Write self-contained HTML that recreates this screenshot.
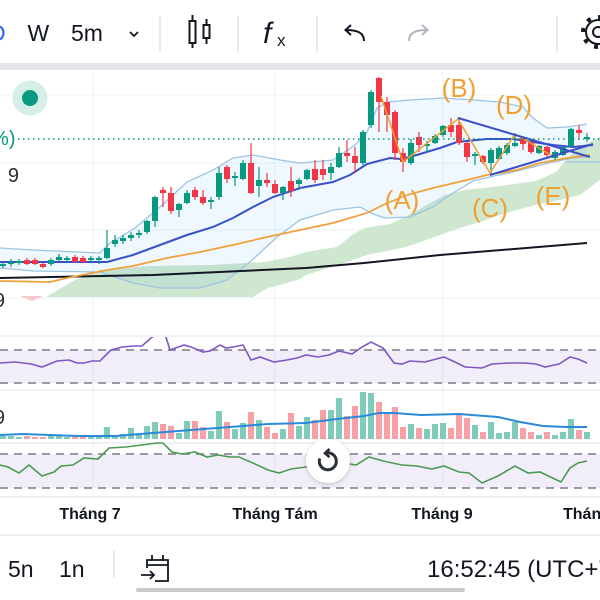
<!DOCTYPE html>
<html><head><meta charset="utf-8"><style>
html,body{margin:0;padding:0;background:#fff;width:600px;height:600px;overflow:hidden}
svg{display:block}
text{font-family:"Liberation Sans",sans-serif}
</style></head><body>
<svg width="600" height="600" viewBox="0 0 600 600" xmlns="http://www.w3.org/2000/svg">
<defs>
<clipPath id="mainClip"><rect x="0" y="70" width="600" height="266"/></clipPath>
<clipPath id="rsiClip"><rect x="0" y="337" width="600" height="53"/></clipPath>
<filter id="sh" x="-50%" y="-50%" width="200%" height="200%"><feDropShadow dx="0" dy="1" stdDeviation="2.5" flood-color="#000" flood-opacity="0.22"/></filter>
</defs>
<rect width="600" height="600" fill="#fff"/>

<!-- toolbar -->
<text x="-11" y="41" font-size="23" fill="#2962ff">D</text>
<text x="27.5" y="41" font-size="23" fill="#131722">W</text>
<text x="71" y="41" font-size="23" fill="#131722">5m</text>
<polyline points="130,32 134,36 138,32" fill="none" stroke="#131722" stroke-width="1.8"/>
<g stroke="#e0e3eb" stroke-width="1.5"><line x1="160" y1="16" x2="160" y2="52"/><line x1="238" y1="16" x2="238" y2="52"/><line x1="317" y1="16" x2="317" y2="52"/><line x1="557" y1="16" x2="557" y2="52"/></g>
<g stroke="#131722" stroke-width="2" fill="none">
<line x1="192.5" y1="15" x2="192.5" y2="48"/><rect x="189.5" y="21" width="6" height="22" fill="#fff"/>
<line x1="206.5" y1="19" x2="206.5" y2="44"/><rect x="203.5" y="25" width="6" height="13" fill="#fff"/>
</g>
<text x="263" y="43" font-size="30" font-style="italic" font-family="Liberation Serif" fill="#131722">f</text>
<text x="277" y="46" font-size="17" fill="#131722">x</text>
<path d="M364 41 C364 33 358 30 346 30 M351 25 L345.5 30 L351 35" fill="none" stroke="#131722" stroke-width="2"/>
<path d="M409 41 C409 33 415 30 427 30 M422 25 L427.5 30 L422 35" fill="none" stroke="#b2b5be" stroke-width="2"/>
<g fill="none" stroke="#131722">
<circle cx="598" cy="32" r="12" stroke-width="2"/>
<circle cx="598" cy="32" r="15" stroke-width="4" stroke-dasharray="4 7.78"/>
<circle cx="598" cy="32" r="5" stroke-width="2"/>
</g>
<rect x="0" y="63" width="600" height="7" fill="#e4e6ec"/>

<!-- grid -->
<g stroke="#eff1f6" stroke-width="1">
<line x1="0" y1="95" x2="600" y2="95"/><line x1="0" y1="163" x2="600" y2="163"/><line x1="0" y1="230" x2="600" y2="230"/><line x1="0" y1="298" x2="600" y2="298"/>
<line x1="93" y1="70" x2="93" y2="497"/><line x1="275" y1="70" x2="275" y2="497"/><line x1="443" y1="70" x2="443" y2="497"/>
</g>

<g clip-path="url(#mainClip)">
<!-- ichimoku cloud -->
<polygon fill="#cfe7cf" points="46,297 73,281 100,270 150,266 210,265 265,262 290,257 306,252 337,247 352,235 365,228 390,224 413,213 430,203 445,195 465,190 500,186 536,181 556,172 568,158 580,147 593,140 600,137 600,180 580,195 560,200 536,205 509,212 480,222 460,228 440,235 415,244 406,247 367,255 344,263 306,275 298,280 268,288 253,297"/>
<polygon fill="#f6c8cc" points="20,296 43,296 32,301"/>
<!-- BB fill -->
<polygon fill="#2196f3" fill-opacity="0.07" points="0,248 33,250 100,253 110,243 135,228 160,207 187,182 213,170 233,158 253,155 280,160 300,163 333,160 355,145 367,132 377,108 388,102 410,100 443,98 473,100 500,102 523,107 533,118 547,128 567,127 587,124 587,157 573,158 553,162 533,167 513,172 490,177 473,181 450,195 433,207 410,217 385,218 373,214 360,207 333,210 300,220 277,237 250,262 227,280 200,288 160,288 133,283 100,272 33,271 0,268"/>
<g fill="none" stroke="#9cc3e3" stroke-width="1.3">
<polyline points="0,248 33,250 100,253 110,243 135,228 160,207 187,182 213,170 233,158 253,155 280,160 300,163 333,160 355,145 367,132 377,108 388,102 410,100 443,98 473,100 500,102 523,107 533,118 547,128 567,127 587,124"/>
<polyline points="0,268 33,271 100,272 133,283 160,288 200,288 227,280 250,262 277,237 300,220 333,210 360,207 373,214 385,218 410,217 433,207 450,195 473,181 490,177 513,172 533,167 553,162 573,158 587,157"/>
<line x1="565" y1="162" x2="600" y2="162"/>
</g>
<polyline fill="none" stroke="#131722" stroke-width="2" points="0,278 153,275 306,268 364,263 440,255 587,243"/>
<polyline fill="none" stroke="#f0a13a" stroke-width="1.7" points="0,281 50,282 67,278 107,270 133,266 167,258 200,252 233,245 267,237 300,230 333,223 367,213 383,205 407,195 433,188 467,180 487,175 517,170 540,163 567,158 590,155"/>
<polyline fill="none" stroke="#3a50c8" stroke-width="2" points="0,262 107,262 133,255 160,245 187,235 213,227 233,218 253,207 273,197 300,188 333,182 350,175 367,164 390,158 400,159 410,157 440,148 457,142 487,139 513,139 533,142 553,145 573,147 593,145"/>

<!-- candle wicks -->
<path stroke="#089981" stroke-width="1.2" fill="none" d="M3 262V268M11 259V267M19 259V265M51 258V266M59 254V261M67 256V262M91 256V262M99 256V264M107 230V259M115 235V247M123 235V244M131 232V241M139 230V238M147 220V234M155 196V227M179 203V217M187 190V204M211 197V209M219 167V200M235 172V186M243 160V180M259 167V197M283 186V200M299 178V190M307 169V180M331 163V180M339 147V168M363 130V165M371 90V128M411 139V165M427 141V152M435 134V144M443 125V137M475 152V165M491 148V175M499 146V160M507 143V155M515 133V147M539 145V154M555 150V160M563 146V156M571 128V147M587 133V142"/>
<path stroke="#f23645" stroke-width="1.2" fill="none" d="M27 258V265M35 258V265M43 263V268M75 255V263M83 256V263M163 187V207M171 187V214M195 187V200M203 190V205M227 165V183M251 143V194M267 173V187M275 180V194M291 167V197M315 160V183M323 160V180M347 140V162M355 147V173M379 77V132M387 97V132M395 110V160M403 148V172M419 132V152M451 118V137M459 117V145M467 142V162M483 155V164M523 137V150M531 140V154M547 146V158M579 125V140"/>
<!-- candle bodies -->
<g fill="#089981">
<rect x="0" y="264" width="6" height="2"/><rect x="8" y="262" width="6" height="2"/><rect x="16" y="261" width="6" height="2"/><rect x="48" y="260" width="6" height="4"/><rect x="56" y="257" width="6" height="3"/><rect x="64" y="258" width="6" height="2"/><rect x="88" y="258" width="6" height="2"/><rect x="96" y="258" width="6" height="2"/><rect x="104" y="248" width="6" height="10"/><rect x="112" y="240" width="6" height="4"/><rect x="120" y="238" width="6" height="3"/><rect x="128" y="235" width="6" height="3"/><rect x="136" y="233" width="6" height="2"/><rect x="144" y="221" width="6" height="11"/><rect x="152" y="197" width="6" height="24"/><rect x="176" y="204" width="6" height="6"/><rect x="184" y="193" width="6" height="10"/><rect x="208" y="200" width="6" height="2"/><rect x="216" y="173" width="6" height="24"/><rect x="232" y="176" width="6" height="2"/><rect x="240" y="163" width="6" height="16"/><rect x="256" y="180" width="6" height="6"/><rect x="280" y="187" width="6" height="6"/><rect x="296" y="180" width="6" height="4"/><rect x="304" y="170" width="6" height="9"/><rect x="328" y="167" width="6" height="6"/><rect x="336" y="153" width="6" height="14"/><rect x="360" y="132" width="6" height="31"/><rect x="368" y="92" width="6" height="33"/><rect x="408" y="143" width="6" height="20"/><rect x="424" y="144" width="6" height="2"/><rect x="432" y="136" width="6" height="7"/><rect x="440" y="126" width="6" height="9"/><rect x="472" y="154" width="6" height="2"/><rect x="488" y="150" width="6" height="13"/><rect x="496" y="148" width="6" height="11"/><rect x="504" y="145" width="6" height="8"/><rect x="512" y="143" width="6" height="3"/><rect x="536" y="146" width="6" height="7"/><rect x="552" y="152" width="6" height="6"/><rect x="560" y="147" width="6" height="8"/><rect x="568" y="129" width="6" height="17"/><rect x="584" y="137" width="6" height="2"/>
</g>
<g fill="#f23645">
<rect x="24" y="260" width="6" height="4"/><rect x="32" y="260" width="6" height="4"/><rect x="40" y="264" width="6" height="3"/><rect x="72" y="257" width="6" height="5"/><rect x="80" y="258" width="6" height="4"/><rect x="160" y="190" width="6" height="3"/><rect x="168" y="193" width="6" height="18"/><rect x="192" y="190" width="6" height="7"/><rect x="200" y="197" width="6" height="6"/><rect x="224" y="167" width="6" height="12"/><rect x="248" y="163" width="6" height="30"/><rect x="264" y="180" width="6" height="3"/><rect x="272" y="184" width="6" height="9"/><rect x="288" y="181" width="6" height="10"/><rect x="312" y="169" width="6" height="11"/><rect x="320" y="169" width="6" height="6"/><rect x="344" y="153" width="6" height="3"/><rect x="352" y="156" width="6" height="7"/><rect x="376" y="78" width="6" height="24"/><rect x="384" y="102" width="6" height="13"/><rect x="392" y="112" width="6" height="41"/><rect x="400" y="153" width="6" height="9"/><rect x="416" y="137" width="6" height="8"/><rect x="448" y="125" width="6" height="7"/><rect x="456" y="125" width="6" height="18"/><rect x="464" y="143" width="6" height="14"/><rect x="480" y="156" width="6" height="6"/><rect x="520" y="138" width="6" height="6"/><rect x="528" y="142" width="6" height="10"/><rect x="544" y="147" width="6" height="8"/><rect x="576" y="130" width="6" height="3"/>
</g>
<!-- wave & triangle -->
<polyline fill="none" stroke="#f0a030" stroke-width="1.5" points="381,96 403,162 458,119 490,173 515,134 554,157"/>
<g stroke="#3a50c8" stroke-width="2"><line x1="458" y1="118" x2="590" y2="157"/><line x1="490" y1="175" x2="593" y2="144"/></g>
<line x1="18" y1="139" x2="600" y2="139" stroke="#089981" stroke-width="1.5" stroke-dasharray="1.5 3.5"/>
</g>

<!-- wave labels -->
<g font-size="26" fill="#f0a030" text-anchor="middle">
<text x="402" y="209">(A)</text><text x="459" y="97">(B)</text><text x="490" y="217">(C)</text><text x="514" y="114">(D)</text><text x="553" y="205">(E)</text>
</g>

<!-- left labels -->
<circle cx="30" cy="98" r="17.5" fill="#d6eee8"/>
<circle cx="30" cy="98" r="8" fill="#089981"/>
<text x="15.5" y="145" font-size="20" fill="#089981" text-anchor="end">+1%)</text>
<text x="19" y="182" font-size="20" fill="#2a2e39" text-anchor="end">9</text>
<text x="5" y="307" font-size="20" fill="#2a2e39" text-anchor="end">9</text>

<!-- pane separators -->
<g stroke="#e0e3eb" stroke-width="1"><line x1="0" y1="336" x2="600" y2="336"/><line x1="0" y1="390" x2="600" y2="390"/><line x1="0" y1="443" x2="600" y2="443"/><line x1="0" y1="497" x2="600" y2="497"/><line x1="0" y1="535" x2="600" y2="535"/></g>

<!-- RSI -->
<rect x="0" y="350" width="600" height="33" fill="#7e57c2" fill-opacity="0.1"/>
<g stroke="#787b86" stroke-width="1.5" stroke-dasharray="8 6"><line x1="0" y1="350" x2="600" y2="350"/><line x1="0" y1="383" x2="600" y2="383"/></g>
<g clip-path="url(#rsiClip)">
<polyline fill="none" stroke="#7e57c2" stroke-width="1.6" points="0,363 15,362 31,364 42,367 57,361 69,360 77,363 84,363 92,361 100,361 111,350 122,347 134,346 142,346 151,338 157,334 165,334 170,350 184,345 191,347 203,352 210,351 220,345 226,348 233,347 243,345 251,360 260,357 274,362 287,360 297,358 306,355 318,357 329,355 339,351 352,354 362,347 371,342 383,348 394,363 402,364 410,361 425,362 444,357 455,362 465,367 482,368 492,364 509,363 524,363 536,364 545,367 559,364 570,357 578,359 587,363"/>
</g>

<!-- Volume -->
<g fill="#80cbb9">
<rect x="0" y="436" width="6" height="3"/><rect x="8" y="436" width="6" height="3"/><rect x="16" y="437" width="6" height="2"/><rect x="48" y="435" width="6" height="4"/><rect x="56" y="435" width="6" height="4"/><rect x="64" y="437" width="6" height="2"/><rect x="88" y="436" width="6" height="3"/><rect x="96" y="435" width="6" height="4"/><rect x="104" y="427" width="6" height="12"/><rect x="112" y="435" width="6" height="4"/><rect x="120" y="434" width="6" height="5"/><rect x="128" y="428" width="6" height="11"/><rect x="136" y="435" width="6" height="4"/><rect x="144" y="426" width="6" height="13"/><rect x="152" y="422" width="6" height="17"/><rect x="176" y="433" width="6" height="6"/><rect x="184" y="421" width="6" height="18"/><rect x="208" y="431" width="6" height="8"/><rect x="216" y="411" width="6" height="28"/><rect x="232" y="429" width="6" height="10"/><rect x="240" y="423" width="6" height="16"/><rect x="256" y="420" width="6" height="19"/><rect x="280" y="429" width="6" height="10"/><rect x="296" y="426" width="6" height="13"/><rect x="304" y="417" width="6" height="22"/><rect x="328" y="410" width="6" height="29"/><rect x="336" y="398" width="6" height="41"/><rect x="360" y="392" width="6" height="47"/><rect x="368" y="393" width="6" height="46"/><rect x="408" y="424" width="6" height="15"/><rect x="424" y="429" width="6" height="10"/><rect x="432" y="424" width="6" height="15"/><rect x="440" y="423" width="6" height="16"/><rect x="472" y="425" width="6" height="14"/><rect x="488" y="422" width="6" height="17"/><rect x="496" y="433" width="6" height="6"/><rect x="504" y="432" width="6" height="7"/><rect x="512" y="422" width="6" height="17"/><rect x="536" y="435" width="6" height="4"/><rect x="552" y="435" width="6" height="4"/><rect x="560" y="432" width="6" height="7"/><rect x="568" y="419" width="6" height="20"/><rect x="584" y="432" width="6" height="7"/>
</g>
<g fill="#f7a1a7">
<rect x="24" y="436" width="6" height="3"/><rect x="32" y="437" width="6" height="2"/><rect x="40" y="437" width="6" height="2"/><rect x="72" y="437" width="6" height="2"/><rect x="80" y="437" width="6" height="2"/><rect x="160" y="424" width="6" height="15"/><rect x="168" y="426" width="6" height="13"/><rect x="192" y="421" width="6" height="18"/><rect x="200" y="427" width="6" height="12"/><rect x="224" y="422" width="6" height="17"/><rect x="248" y="412" width="6" height="27"/><rect x="264" y="427" width="6" height="12"/><rect x="272" y="433" width="6" height="6"/><rect x="288" y="413" width="6" height="26"/><rect x="312" y="420" width="6" height="19"/><rect x="320" y="410" width="6" height="29"/><rect x="344" y="416" width="6" height="23"/><rect x="352" y="406" width="6" height="33"/><rect x="376" y="402" width="6" height="37"/><rect x="384" y="413" width="6" height="26"/><rect x="392" y="407" width="6" height="32"/><rect x="400" y="427" width="6" height="12"/><rect x="416" y="428" width="6" height="11"/><rect x="448" y="428" width="6" height="11"/><rect x="456" y="415" width="6" height="24"/><rect x="464" y="418" width="6" height="21"/><rect x="480" y="432" width="6" height="7"/><rect x="520" y="428" width="6" height="11"/><rect x="528" y="432" width="6" height="7"/><rect x="544" y="432" width="6" height="7"/><rect x="576" y="430" width="6" height="9"/>
</g>
<polyline fill="none" stroke="#2a8ad8" stroke-width="2" points="0,435 23,434 77,436 115,436 153,433 191,430 230,427 268,424 306,423 337,419 364,416 379,413 394,413 421,415 459,414 498,417 520,422 543,426 566,427 587,427"/>
<text x="5" y="424" font-size="20" fill="#2a2e39" text-anchor="end">9</text>

<!-- Oscillator -->
<rect x="0" y="454" width="600" height="34" fill="#7e57c2" fill-opacity="0.1"/>
<g stroke="#787b86" stroke-width="1.5" stroke-dasharray="8 6"><line x1="0" y1="454" x2="600" y2="454"/><line x1="0" y1="488" x2="600" y2="488"/></g>
<polyline fill="none" stroke="#4c9a52" stroke-width="1.6" points="0,465 8,467 19,473 29,465 42,476 54,472 61,466 73,465 84,458 98,459 109,448 126,447 142,445 157,443 163,443 172,452 182,454 195,452 207,457 218,455 230,457 239,457 253,463 268,470 279,473 291,469 306,467 321,465 344,463 356,465 369,457 383,461 402,465 417,466 432,469 444,466 459,472 469,473 482,483 498,476 515,466 528,473 540,472 561,482 570,468 578,463 587,461"/>

<!-- reset button -->
<circle cx="328" cy="461" r="22" fill="#fff" filter="url(#sh)"/>
<path d="M326 453 A8.5 8.5 0 1 1 319.8 458.5" fill="none" stroke="#2a2e39" stroke-width="3"/>
<polyline points="329.5,449 325,453.2 329.5,457.2" fill="none" stroke="#2a2e39" stroke-width="2.6"/>

<!-- time axis -->
<g font-size="16" font-weight="bold" fill="#131722" text-anchor="middle">
<text x="90" y="519">Tháng 7</text><text x="275" y="519">Tháng Tám</text><text x="442" y="519">Tháng 9</text>
</g>
<text x="563" y="519" font-size="16" font-weight="bold" fill="#131722">Tháng 10</text>

<!-- bottom bar -->
<text x="8" y="577" font-size="23" fill="#131722">5n</text>
<text x="59" y="577" font-size="23" fill="#131722">1n</text>
<line x1="114" y1="550" x2="114" y2="578" stroke="#e0e3eb" stroke-width="1.5"/>
<g fill="none" stroke="#131722" stroke-width="1.8">
<path d="M147 568 V560 H168 V581 H155"/>
<line x1="147" y1="565" x2="168" y2="565"/>
<line x1="152" y1="555" x2="152" y2="561"/><line x1="163" y1="555" x2="163" y2="561"/>
<path d="M141 575 H154 M150 571 L154 575 L150 579"/>
</g>
<text x="427" y="577" font-size="24" fill="#131722">16:52:45 (UTC+7)</text>
<rect x="136" y="588" width="329" height="4" rx="2" fill="#c9c9c9"/>
</svg>
</body></html>
